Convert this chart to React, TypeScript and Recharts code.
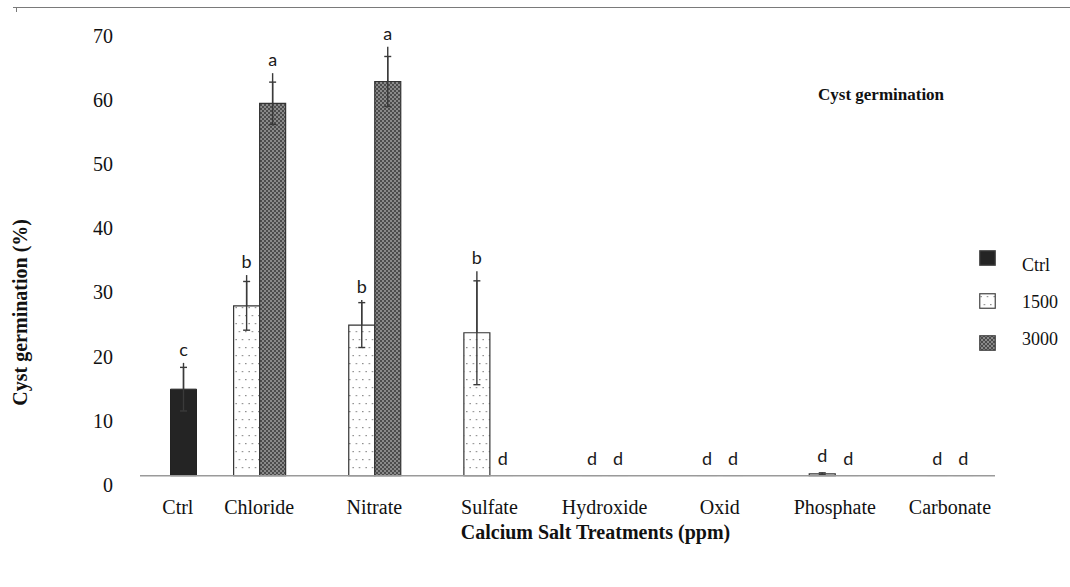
import React from 'react';
import { BarChart, Bar, XAxis, YAxis, ErrorBar, LabelList, Legend, Label, Rectangle } from 'recharts';

// ---- data ----
const categories = ['Ctrl', 'Chloride', 'Nitrate', 'Sulfate', 'Hydroxide', 'Oxid', 'Phosphate', 'Carbonate'];
const ctrlValues = [13.5, null, null, null, null, null, null, null];
const values1500 = [null, 26.5, 23.5, 22.3, 0, 0, 0.3, 0];
const values3000 = [null, 58.1, 61.5, 0, 0, 0, 0, 0];
const ctrlErr = [3.4, null, null, null, null, null, null, null];
const err1500 = [null, 3.8, 3.5, 8.1, 0, 0, 0.15, 0];
const err3000 = [null, 3.3, 3.9, 0, 0, 0, 0, 0];
// upper end of the drawn error line (above the mean), it overshoots the cap a little
const ctrlWhisker = [4.1, null, null, null, null, null, null, null];
const whisker1500 = [null, 4.8, 3.9, 9.6, 0, 0, 0.15, 0];
const whisker3000 = [null, 4.7, 5.4, 0, 0, 0, 0, 0];
const ctrlLetters = ['c', null, null, null, null, null, null, null];
const letters1500 = [null, 'b', 'b', 'b', 'd', 'd', 'd', 'd'];
const letters3000 = [null, 'a', 'a', 'd', 'd', 'd', 'd', 'd'];
const yTicks = [0, 10, 20, 30, 40, 50, 60, 70];
const legendNames = ['Ctrl', '1500', '3000'];
const legendKeys = ['ctrl', 's1500', 's3000'];

const whiskerPair = (w: number | null) => (w == null || w === 0 ? null : [0, w]);

const data = categories.map((name, i) => ({
  name,
  ctrl: ctrlValues[i],
  s1500: values1500[i],
  s3000: values3000[i],
  ctrlErr: ctrlErr[i],
  err1500: err1500[i],
  err3000: err3000[i],
  ctrlWhisk: whiskerPair(ctrlWhisker[i]),
  whisk1500: whiskerPair(whisker1500[i]),
  whisk3000: whiskerPair(whisker3000[i]),
}));

// ---- styles ----
const SERIF = "'Liberation Serif', 'Times New Roman', serif";
const LETTER_FONT = "Lato, 'Open Sans', sans-serif";
const BAR = 26;
const fills: Record<string, string> = { ctrl: '#242424', s1500: 'url(#dots1500)', s3000: 'url(#hatch3000)' };
const ERR_STROKE = '#3a3a3a';

// zero-valued bars are drawn as a faint hairline, as in the reference
const BarShape = (props: any) => {
  const { x, y, width, height } = props;
  if (Math.abs(height) < 0.5) {
    return <line x1={x + 3} x2={x + width - 3} y1={y + height} y2={y + height} stroke="#d8d8d8" strokeWidth={1} />;
  }
  return <Rectangle {...props} />;
};

const makeLetter = (values: (number | null)[], whiskers: (number | null)[], letters: (string | null)[]) =>
  (props: any) => {
    const vb = props.viewBox || props;
    const idx = categories.indexOf(props.value);
    if (idx < 0) return null;
    const letter = letters[idx];
    if (!letter) return null;
    const v = values[idx] ?? 0;
    const w = whiskers[idx] ?? 0;
    const x = Number(vb.x) + Number(vb.width) / 2;
    const h = Math.abs(Number(vb.height));
    const top = Number(vb.y) + (Number(vb.height) < 0 ? Number(vb.height) : 0);
    const pxPerUnit = v > 0 ? h / v : 0;
    const lineTop = v > 0 ? top - w * pxPerUnit : top + h;
    const gap = v + w > 1 ? 7 : 11;
    return (
      <text x={x} y={lineTop - gap} textAnchor="middle" fontFamily={LETTER_FONT} fontSize={18} fill="#1a1a1a">
        {letter}
      </text>
    );
  };

const YTick = (props: any) => {
  const { x, y, payload } = props;
  return (
    <text x={x} y={y + 9} textAnchor="end" dominantBaseline="central" fontFamily={SERIF} fontSize={20} fill="#111">
      {payload.value}
    </text>
  );
};

const XTick = (props: any) => {
  const { x, y, payload } = props;
  const i = categories.indexOf(payload.value);
  const onlyCtrl = ctrlValues[i] != null && values1500[i] == null && values3000[i] == null;
  // centre the label under the bars that are drawn in the group
  const off = onlyCtrl ? BAR * 0.8 : -BAR / 2;
  return (
    <text x={x + off} y={y + 31} textAnchor="middle" dominantBaseline="central" fontFamily={SERIF} fontSize={20} fill="#111">
      {payload.value}
    </text>
  );
};

const XTitle = (props: any) => {
  const vb = props.viewBox;
  return (
    <text x={vb.x + vb.width / 2 + 28} y={vb.y + 56} textAnchor="middle" dominantBaseline="central" fontFamily={SERIF} fontSize={20} fontWeight="bold" fill="#111">
      Calcium Salt Treatments (ppm)
    </text>
  );
};

const YTitle = (props: any) => {
  const vb = props.viewBox;
  const cx = vb.x - 60;
  const cy = vb.y + vb.height / 2 + 61;
  return (
    <text x={cx} y={cy} transform={`rotate(-90, ${cx}, ${cy})`} textAnchor="middle" dominantBaseline="central" fontFamily={SERIF} fontSize={20} fontWeight="bold" fill="#111">
      Cyst germination (%)
    </text>
  );
};

const renderLegend = () => (
  <div style={{ position: 'relative', width: 90, height: 120 }}>
    {legendNames.map((name, i) => (
      <React.Fragment key={name}>
        <svg width={18} height={17} style={{ position: 'absolute', left: 0, top: 2 + i * 42.5 }}>
          <rect x={0.75} y={0.75} width={15.5} height={14.5} fill={fills[legendKeys[i]]} stroke="#444" strokeWidth={1.2} />
        </svg>
        <div
          style={{
            position: 'absolute',
            left: 43,
            top: 17 + i * 37 - 11,
            height: 22,
            lineHeight: '22px',
            fontFamily: SERIF,
            fontSize: 18,
            color: '#111',
            whiteSpace: 'nowrap',
          }}
        >
          {name}
        </div>
      </React.Fragment>
    ))}
  </div>
);

export default function App() {
  return (
    <div style={{ position: 'absolute', left: 0, top: 0, width: 1070, height: 587, background: '#fff', overflow: 'hidden' }}>
      <div style={{ position: 'absolute', left: 13, top: 7, width: 1057, height: 0, borderTop: '1px solid #7a7a7a' }} />
      <div style={{ position: 'absolute', left: 16, top: 7, width: 0, height: 5, borderLeft: '1px solid #7a7a7a' }} />
      <BarChart
        width={1070}
        height={587}
        data={data}
        margin={{ top: 27, right: 75, bottom: 51.3, left: 80 }}
        barGap={0}
        barSize={BAR}
      >
        <defs>
          <pattern id="dots1500" width="6.5" height="16" patternUnits="userSpaceOnUse">
            <rect width="6.5" height="16" fill="#ffffff" />
            <rect x="1.5" y="3" width="1.2" height="1.2" fill="#707070" />
            <rect x="4.75" y="11" width="1.2" height="1.2" fill="#707070" />
          </pattern>
          <pattern id="hatch3000" width="4" height="4" patternUnits="userSpaceOnUse">
            <rect width="4" height="4" fill="#8a8a8a" />
            <rect x="0" y="0" width="2" height="2" fill="#4c4c4c" />
            <rect x="2" y="2" width="2" height="2" fill="#4c4c4c" />
          </pattern>
        </defs>
        <XAxis
          dataKey="name"
          type="category"
          interval={0}
          height={60}
          padding={{ left: -40.5, right: -25.5 }}
          axisLine={{ stroke: '#9a9a9a', strokeWidth: 1.6 }}
          tickLine={false}
          tickSize={0}
          tickMargin={0}
          tick={<XTick />}
        >
          <Label content={<XTitle />} />
        </XAxis>
        <YAxis
          type="number"
          domain={[0, 70]}
          ticks={yTicks}
          width={60}
          axisLine={false}
          tickLine={false}
          tickSize={0}
          tickMargin={27}
          tick={<YTick />}
        >
          <Label content={<YTitle />} />
        </YAxis>
        <Legend
          layout="horizontal"
          verticalAlign="middle"
          align="center"
          content={renderLegend}
          wrapperStyle={{ left: 979, top: 248, width: 90, height: 120 }}
        />
        <Bar dataKey="s1500" name="1500" fill={fills.s1500} stroke="#333" strokeWidth={1.2} barSize={BAR} minPointSize={0.01} shape={<BarShape />} isAnimationActive={false}>
          <ErrorBar dataKey="whisk1500" width={0} stroke={ERR_STROKE} strokeWidth={1.4} direction="y" />
          <ErrorBar dataKey="err1500" width={3.5} stroke={ERR_STROKE} strokeWidth={1.4} direction="y" />
          <LabelList dataKey="name" content={makeLetter(values1500, whisker1500, letters1500)} />
        </Bar>
        <Bar dataKey="s3000" name="3000" fill={fills.s3000} stroke="#333" strokeWidth={1.2} barSize={BAR} minPointSize={0.01} shape={<BarShape />} isAnimationActive={false}>
          <ErrorBar dataKey="whisk3000" width={0} stroke={ERR_STROKE} strokeWidth={1.4} direction="y" />
          <ErrorBar dataKey="err3000" width={3.5} stroke={ERR_STROKE} strokeWidth={1.4} direction="y" />
          <LabelList dataKey="name" content={makeLetter(values3000, whisker3000, letters3000)} />
        </Bar>
        <Bar dataKey="ctrl" name="Ctrl" fill={fills.ctrl} stroke="#222" strokeWidth={1} barSize={BAR} isAnimationActive={false}>
          <ErrorBar dataKey="ctrlWhisk" width={0} stroke={ERR_STROKE} strokeWidth={1.4} direction="y" />
          <ErrorBar dataKey="ctrlErr" width={3.5} stroke={ERR_STROKE} strokeWidth={1.4} direction="y" />
          <LabelList dataKey="name" content={makeLetter(ctrlValues, ctrlWhisker, ctrlLetters)} />
        </Bar>
      </BarChart>
      <div
        style={{
          position: 'absolute',
          left: 818,
          top: 85,
          lineHeight: '20px',
          fontFamily: SERIF,
          fontSize: 17,
          fontWeight: 'bold',
          color: '#111',
          whiteSpace: 'nowrap',
        }}
      >
        Cyst germination
      </div>
    </div>
  );
}
